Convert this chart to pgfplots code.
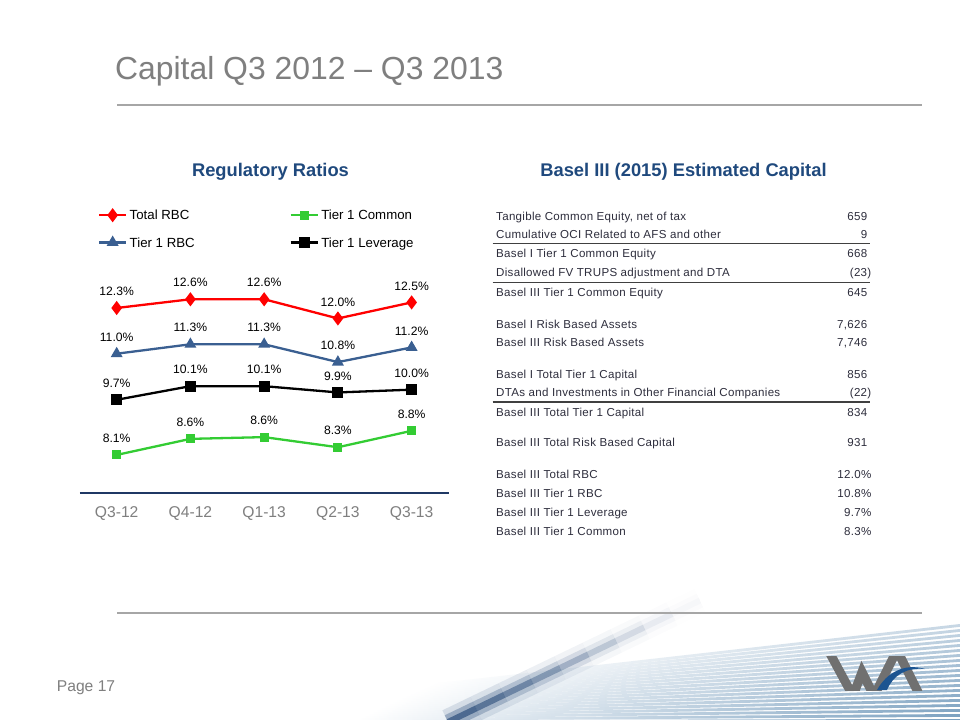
\documentclass[border=0pt]{standalone}
\usepackage{pgfplots}
\pgfplotsset{compat=1.18}
\usepackage{fontspec}
\setmainfont{Liberation Sans}
\newfontfamily\tabfont[LetterSpace=2.6]{Liberation Sans}
\definecolor{titlegray}{RGB}{127,127,127}
\definecolor{rulegray}{RGB}{166,166,166}
\definecolor{navy}{RGB}{31,73,125}
\definecolor{axisnavy}{RGB}{31,56,100}
\definecolor{sred}{RGB}{255,0,0}
\definecolor{sgreen}{RGB}{51,204,51}
\definecolor{sblue}{RGB}{58,95,145}
\definecolor{tabtext}{RGB}{45,45,60}
\definecolor{logogray}{RGB}{112,112,112}
\definecolor{logoblue}{RGB}{28,84,145}
\definecolor{stripe}{RGB}{120,158,190}
\definecolor{streak}{RGB}{25,62,112}
\newcommand\trow[3]{%
  \node[anchor=base west, inner sep=0pt, font=\tabfont\fontsize{11.6}{13}\selectfont, text=tabtext] at (496,#1+4.1) {#2};
  \node[anchor=base east, inner sep=0pt, font=\tabfont\fontsize{11.6}{13}\selectfont, text=tabtext] at (867.5,#1+4.1) {#3};}
\newcommand\trowr[3]{%
  \node[anchor=base west, inner sep=0pt, font=\tabfont\fontsize{11.6}{13}\selectfont, text=tabtext] at (496,#1+4.1) {#2};
  \node[anchor=base east, inner sep=0pt, font=\tabfont\fontsize{11.6}{13}\selectfont, text=tabtext] at (871.5,#1+4.1) {#3};}
\begin{document}
\begin{tikzpicture}
\begin{scope}[x=1bp,y=-1bp]
\useasboundingbox (0,0) rectangle (960,720);
\fill[white] (0,0) rectangle (960,720);
% decorative stripes bottom right
\foreach \k in {0,...,19}{
  \pgfmathsetmacro{\yr}{624+\k*5}
  \pgfmathsetmacro{\yl}{684+\k*1.9}
  \pgfmathsetmacro{\xl}{430-\k*4}
  \pgfmathtruncatemacro{\pc}{42+\k*3}
  \shade[left color=white, right color=stripe!\pc!white] (\xl,\yl) -- (960,\yr) -- (960,\yr+2.8) -- (\xl,\yl+2.8) -- cycle;
}
% diagonal streak
\foreach \i/\op in {0/0.85,1/0.75,2/0.62,3/0.5,4/0.38,5/0.26,6/0.16,7/0.08,8/0.03}{
  \draw[line width=26, color=streak, opacity=0.15*\op, line cap=butt] ({448+\i*28},{722-\i*13.5}) -- ({476+\i*28},{708.5-\i*13.5});
  \draw[line width=15, color=streak, opacity=0.35*\op, line cap=butt] ({448+\i*28},{722-\i*13.5}) -- ({476+\i*28},{708.5-\i*13.5});
  \draw[line width=6, color=streak, opacity=0.7*\op, line cap=butt] ({448+\i*28},{722-\i*13.5}) -- ({476+\i*28},{708.5-\i*13.5});
}
% logo
\begin{scope}
\clip (818,656) rectangle (930,690);
\draw[logogray, line width=9, line join=miter, miter limit=10] (827,648) -- (853,696) -- (862,672) -- (874,696) -- (897,650) -- (921,698);
\end{scope}
\fill[logoblue] (877,690) .. controls (887,672) and (905,663) .. (925,669) .. controls (907,667) and (893,675) .. (887,690) -- cycle;
% title and rules
\node[anchor=base west, inner sep=0pt, font=\fontsize{32}{36}\selectfont, text=titlegray] at (115,80) {Capital Q3 2012 – Q3 2013};
\draw[rulegray, line width=1.5] (117,105) -- (922,105);
\draw[rulegray, line width=1.5] (117,613) -- (922,613);
\node[anchor=base west, inner sep=0pt, font=\fontsize{15.7}{18}\selectfont, text=titlegray] at (56.7,691.7) {Page 17};
% subtitles
\node[anchor=base, inner sep=0pt, font=\bfseries\fontsize{18.4}{21}\selectfont, text=navy] at (270.5,176.6) {Regulatory Ratios};
\node[anchor=base, inner sep=0pt, font=\bfseries\fontsize{18.4}{21}\selectfont, text=navy] at (683.5,176.6) {Basel III (2015) Estimated Capital};
% table
\trow{216}{Tangible Common Equity, net of tax}{659}
\trow{234.7}{Cumulative OCI Related to AFS and other}{9}
\draw[black!75, line width=1.3] (492.7,243.7) -- (870,243.7);
\trow{253.7}{Basel I Tier 1 Common Equity}{668}
\trowr{272.7}{Disallowed FV TRUPS adjustment and DTA}{(23)}
\draw[black!75, line width=1.3] (492.7,282.3) -- (870,282.3);
\trow{292.7}{Basel III Tier 1 Common Equity}{645}
\trow{324}{Basel I Risk Based Assets}{7,626}
\trow{342.7}{Basel III Risk Based Assets}{7,746}
\trow{374.3}{Basel I Total Tier 1 Capital}{856}
\trowr{392.7}{DTAs and Investments in Other Financial Companies}{(22)}
\draw[black!75, line width=1.3] (492.7,402) -- (870,402);
\trow{412}{Basel III Total Tier 1 Capital}{834}
\trow{442.3}{Basel III Total Risk Based Capital}{931}
\trowr{474}{Basel III Total RBC}{12.0\%}
\trowr{493}{Basel III Tier 1 RBC}{10.8\%}
\trowr{512}{Basel III Tier 1 Leverage}{9.7\%}
\trowr{531}{Basel III Tier 1 Common}{8.3\%}
\end{scope}
\begin{axis}[
  at={(79.8bp,-493.3bp)}, anchor=south west,
  scale only axis, width=368.7bp, height=209.4bp,
  xmin=-0.5, xmax=4.5, ymin=7, ymax=13,
  axis x line*=bottom, axis y line=none,
  x axis line style={-, line width=2.3bp, color=axisnavy},
  xtick={0,1,2,3,4},
  xticklabels={Q3-12,Q4-12,Q1-13,Q2-13,Q3-13},
  major tick length=0pt,
  xticklabel style={font=\fontsize{15.7}{18}\selectfont, text=titlegray, anchor=base, yshift=-24bp, inner sep=0pt},
  ytick=\empty,
  clip=false,
  point meta=y,
  nodes near coords={\pgfmathprintnumber[fixed,fixed zerofill,precision=1,assume math mode=true]{\pgfplotspointmeta}\%},
  every node near coord/.append style={font=\fontsize{12.2}{14}\selectfont, text=black, anchor=center, yshift=16.5bp, inner sep=0pt},
  legend columns=2,
  legend cell align=left,
  legend style={at={(axis description cs:0.0494,1.353)}, anchor=north west, draw=none, fill=none,
    inner sep=0pt, outer sep=0pt, font=\fontsize{13.3}{15}\selectfont,
    column sep=2.4bp, row sep=17.2bp,
    nodes={inner sep=0pt, text height=9.6bp, text depth=0bp},
    /tikz/every even column/.append style={column sep=94.8bp}},
  legend image code/.code={\draw[mark repeat=2,mark phase=2] plot coordinates {(0bp,0bp) (13.5bp,0bp) (27bp,0bp)};},
]
\addplot[sred, line width=2.3bp, mark=diamond*, mark size=5.2bp, mark options={solid}] coordinates {(0,12.31) (1,12.56) (2,12.56) (3,12.01) (4,12.47)};
\addlegendentry{Total RBC}
\addplot[sgreen, line width=2.3bp, mark=square*, mark size=3.3bp] coordinates {(0,8.10) (1,8.56) (2,8.61) (3,8.32) (4,8.79)};
\addlegendentry{Tier 1 Common}
\addplot[sblue, line width=2.3bp, mark=triangle*, mark size=4.6bp] coordinates {(0,11.00) (1,11.27) (2,11.27) (3,10.76) (4,11.18)};
\addlegendentry{Tier 1 RBC}
\addplot[black, line width=2.3bp, mark=square*, mark size=4.3bp] coordinates {(0,9.68) (1,10.07) (2,10.07) (3,9.89) (4,9.97)};
\addlegendentry{Tier 1 Leverage}
\end{axis}
\end{tikzpicture}
\end{document}
